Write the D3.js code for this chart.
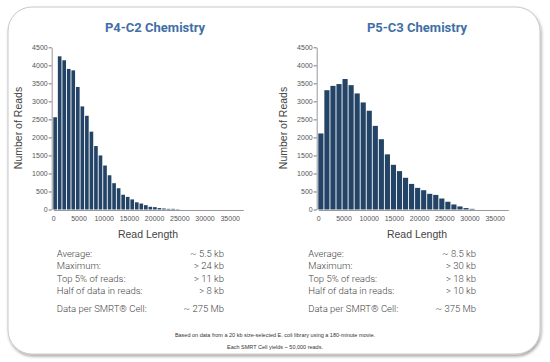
<!DOCTYPE html>
<html>
<head>
<meta charset="utf-8">
<script src="https://cdn.jsdelivr.net/npm/d3@7"></script>
<style>
  html, body { margin: 0; padding: 0; background: #fff; }
  svg { display: block; }
</style>
</head>
<body>
<div id="chart"></div>
<script>
// histogram counts, one per bin
const p4Counts = [2560, 4250, 4140, 3900, 3860, 3400, 2860, 2600, 2160, 1760, 1500, 1220, 950, 730,
  590, 410, 350, 280, 200, 165, 120, 75, 65, 40, 28, 18, 18, 9];
const p5Counts = [2110, 3310, 3430, 3480, 3620, 3450, 3220, 2970, 2740, 2320, 1950, 1530, 1240, 1065,
  880, 710, 600, 535, 435, 405, 305, 215, 140, 85, 40, 18];
const p4BinWidth = 900;
const p5BinWidth = 1200;

const xTicks = [0, 5000, 10000, 15000, 20000, 25000, 30000, 35000];
const yTicks = [0, 500, 1000, 1500, 2000, 2500, 3000, 3500, 4000, 4500];

const titles = ["P4-C2 Chemistry", "P5-C3 Chemistry"];
const statLabels = ["Average:", "Maximum:", "Top 5% of reads:", "Half of data in reads:", "Data per SMRT\u00AE Cell:"];
const p4Stats = ["~ 5.5 kb", "> 24 kb", "> 11 kb", "> 8 kb", "~ 275 Mb"];
const p5Stats = ["~ 8.5 kb", "> 30 kb", "> 18 kb", "> 10 kb", "~ 375 Mb"];
const footnotes = [
  "Based on data from a 20 kb size-selected E. coli library using a 180-minute movie.",
  "Each SMRT Cell yields ~ 50,000 reads."
];

const width = 550, height = 362;
const barColor = "#234466";
const titleColor = "#3f6fa6";
const textColor = "#444";

const svg = d3.select("#chart").append("svg")
  .attr("width", width)
  .attr("height", height);

// card with soft shadow
const defs = svg.append("defs");
const filt = defs.append("filter").attr("id", "shadow")
  .attr("x", "-5%").attr("y", "-5%").attr("width", "110%").attr("height", "115%");
filt.append("feDropShadow")
  .attr("dx", 1).attr("dy", 2).attr("stdDeviation", 1.5)
  .attr("flood-color", "#000").attr("flood-opacity", 0.35);

svg.append("rect")
  .attr("x", 8).attr("y", 7)
  .attr("width", 532).attr("height", 347)
  .attr("rx", 24).attr("ry", 24)
  .attr("fill", "#fff")
  .attr("stroke", "#c8c8c8")
  .attr("stroke-width", 1)
  .attr("filter", "url(#shadow)");

const panels = [
  { title: titles[0], counts: p4Counts, bin: p4BinWidth, stats: p4Stats, left: 53.3, cx: 155, lx: 148, sx0: 56.7, sx1: 224 },
  { title: titles[1], counts: p5Counts, bin: p5BinWidth, stats: p5Stats, left: 318.3, cx: 417, lx: 417, sx0: 308.3, sx1: 476 }
];

const yTop = 47.3, yBottom = 209.5;
const xSpan = 190;

panels.forEach(p => {
  const g = svg.append("g");

  const x = d3.scaleLinear().domain([0, 37700]).range([p.left, p.left + xSpan]);
  const y = d3.scaleLinear().domain([0, 4500]).range([yBottom, yTop]);

  g.append("text")
    .attr("x", p.cx).attr("y", 32)
    .attr("text-anchor", "middle")
    .attr("font-family", "Roboto, 'DejaVu Sans', sans-serif")
    .attr("font-weight", "bold")
    .attr("font-size", 13)
    .attr("fill", titleColor)
    .text(p.title);

  // bars
  g.selectAll("rect.bar")
    .data(p.counts)
    .join("rect")
    .attr("class", "bar")
    .attr("x", (d, i) => x(i * p.bin))
    .attr("y", d => y(d))
    .attr("width", x(p.bin) - x(0) - 0.9)
    .attr("height", d => y(0) - y(d))
    .attr("fill", barColor);

  // y axis
  const yAxis = g.append("g")
    .attr("transform", `translate(${p.left - 1.6},0)`)
    .call(d3.axisLeft(y).tickValues(yTicks).tickSize(3).tickSizeOuter(0).tickFormat(d3.format("d")));
  yAxis.select(".domain").attr("stroke", "#999");
  yAxis.selectAll(".tick line").attr("stroke", "#777");
  yAxis.selectAll(".tick text")
    .attr("font-family", "'Liberation Sans', Arial, sans-serif")
    .attr("font-size", 7)
    .attr("fill", "#555")
    .attr("x", -4);

  // x axis
  const xAxis = g.append("g")
    .attr("transform", `translate(0,${yBottom + 0.5})`)
    .call(d3.axisBottom(x).tickValues(xTicks).tickSize(0).tickSizeOuter(0).tickFormat(d3.format("d")));
  xAxis.select(".domain").attr("stroke", "#999");
  xAxis.selectAll(".tick text")
    .attr("font-family", "'Liberation Sans', Arial, sans-serif")
    .attr("font-size", 7)
    .attr("fill", "#555")
    .attr("dy", "1.2em");

  // axis titles
  g.append("text")
    .attr("transform", `translate(${p.left - 31},128) rotate(-90)`)
    .attr("text-anchor", "middle")
    .attr("font-family", "'Liberation Sans', Arial, sans-serif")
    .attr("font-size", 10.5)
    .attr("fill", textColor)
    .text("Number of Reads");

  g.append("text")
    .attr("x", p.lx).attr("y", 238)
    .attr("text-anchor", "middle")
    .attr("font-family", "'Liberation Sans', Arial, sans-serif")
    .attr("font-size", 10.5)
    .attr("fill", textColor)
    .text("Read Length");

  // stats table
  const rowY = [256.5, 269, 281.5, 294, 312];
  g.selectAll("text.slabel")
    .data(statLabels)
    .join("text")
    .attr("class", "slabel")
    .attr("x", p.sx0)
    .attr("y", (d, i) => rowY[i])
    .attr("font-family", "Roboto, 'DejaVu Sans', sans-serif")
    .attr("font-weight", 300)
    .attr("font-size", 9.5)
    .attr("fill", textColor)
    .text(d => d);

  g.selectAll("text.svalue")
    .data(p.stats)
    .join("text")
    .attr("class", "svalue")
    .attr("x", p.sx1)
    .attr("y", (d, i) => rowY[i])
    .attr("text-anchor", "end")
    .attr("font-family", "Roboto, 'DejaVu Sans', sans-serif")
    .attr("font-weight", 300)
    .attr("font-size", 9.5)
    .attr("fill", textColor)
    .text(d => d);
});

svg.selectAll("text.foot")
  .data(footnotes)
  .join("text")
  .attr("class", "foot")
  .attr("x", 275)
  .attr("y", (d, i) => 337 + i * 11.5)
  .attr("text-anchor", "middle")
  .attr("font-family", "'Liberation Sans', Arial, sans-serif")
  .attr("font-size", 5.5)
  .attr("fill", "#333")
  .text(d => d);
</script>
</body>
</html>
